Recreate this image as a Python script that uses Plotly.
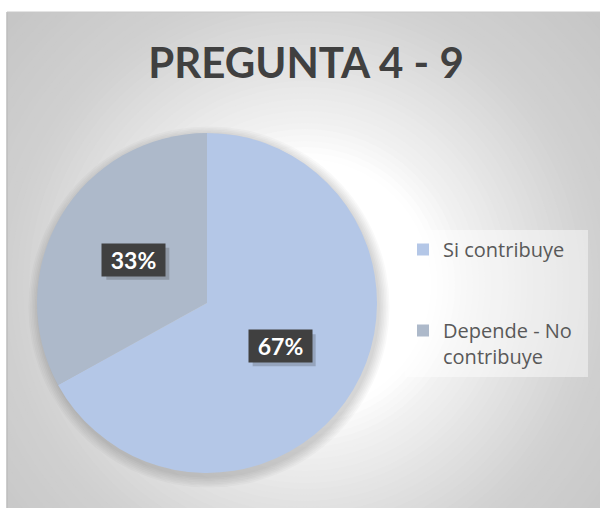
import plotly.graph_objects as go
import math

# ---- data ----
categories = ["Si contribuye", "Depende - No contribuye"]
legend_labels = ["Si contribuye<br> <br> ", "Depende - No<br>contribuye"]
values = [67, 33]
colors = ["#B4C7E7", "#ADB9CA"]
title_text = "PREGUNTA 4 - 9"

W, H = 600, 508
# pie geometry in pixels
cx, cy, R = 207, 303, 170


def px_x(x):
    return x / W


def px_y(y):
    return (H - y) / H


fig = go.Figure()
fig.add_trace(go.Pie(
    labels=legend_labels,
    values=values,
    marker=dict(colors=colors, line=dict(width=0)),
    sort=False,
    direction="clockwise",
    rotation=0,
    textinfo="none",
    hoverinfo="skip",
    domain=dict(x=[px_x(cx - R), px_x(cx + R)], y=[px_y(cy + R), px_y(cy - R)]),
    showlegend=True,
))


def grad(d):
    pts = [(0, 255), (130, 255), (165, 241), (290, 209), (420, 196)]
    for (d0, b0), (d1, b1) in zip(pts, pts[1:]):
        if d <= d1:
            return b0 + (b1 - b0) * (d - d0) / (d1 - d0)
    return pts[-1][1]


shapes = []
gx, gy = 305, 285
r = 420
while r > 0:
    b = int(round(grad(r)))
    shapes.append(dict(type="circle", xref="paper", yref="paper",
                       x0=px_x(gx - r), x1=px_x(gx + r), y0=px_y(gy + r), y1=px_y(gy - r),
                       fillcolor=f"rgb({b},{b},{b})", line=dict(width=0), layer="below"))
    r -= 6
# white margins outside the chart area
shapes.append(dict(type="rect", xref="paper", yref="paper", x0=-1, x1=px_x(7), y0=-1, y1=2,
                   fillcolor="white", line=dict(width=0), layer="below"))
shapes.append(dict(type="rect", xref="paper", yref="paper", x0=-1, x1=2, y0=px_y(12), y1=2,
                   fillcolor="white", line=dict(width=0), layer="below"))
shapes.append(dict(type="line", xref="paper", yref="paper", x0=px_x(7), x1=px_x(7), y0=0, y1=px_y(12),
                   line=dict(color="#BDBDBD", width=1.5), layer="below"))
shapes.append(dict(type="line", xref="paper", yref="paper", x0=px_x(7), x1=1.0, y0=px_y(12), y1=px_y(12),
                   line=dict(color="#C8C8C8", width=1), layer="below"))
# soft pie shadow
for k in range(7):
    rr = R + 1 + k * 1.6
    shapes.append(dict(type="circle", xref="paper", yref="paper",
                       x0=px_x(cx + 2 - rr), x1=px_x(cx + 2 + rr),
                       y0=px_y(cy + 4 + rr), y1=px_y(cy + 4 - rr),
                       fillcolor="rgba(0,0,0,0.024)", line=dict(width=0), layer="below"))
# legend panel
shapes.append(dict(type="rect", xref="paper", yref="paper", x0=px_x(405), x1=px_x(588),
                   y0=px_y(377), y1=px_y(230), fillcolor="rgba(255,255,255,0.45)",
                   line=dict(width=0), layer="below"))

# percentage labels positioned from the data
total = sum(values)
annotations = []
cum = 0
bw, bh = 63, 32
for v in values:
    mid = (cum + v / 2) / total * 2 * math.pi
    cum += v
    lx = cx + 0.5 * R * math.sin(mid)
    ly = cy - 0.5 * R * math.cos(mid)
    pct = f"{round(v / total * 100)}%"
    shapes.append(dict(type="rect", xref="paper", yref="paper",
                       x0=px_x(lx - bw / 2 + 4), x1=px_x(lx + bw / 2 + 4),
                       y0=px_y(ly + bh / 2 + 4), y1=px_y(ly - bh / 2 + 4),
                       fillcolor="rgba(40,40,40,0.22)", line=dict(width=0), layer="above"))
    annotations.append(dict(x=px_x(lx), y=px_y(ly), xref="paper", yref="paper",
                            xanchor="center", yanchor="middle",
                            text=f"<b>{pct}</b>", showarrow=False, width=bw - 12, height=bh - 12,
                            font=dict(size=23, color="white", family="Lato"),
                            bgcolor="#404040", borderpad=6))

fig.update_layout(
    width=W, height=H,
    margin=dict(l=0, r=0, t=0, b=0),
    paper_bgcolor="white",
    plot_bgcolor="white",
    title=dict(text=f"<b>{title_text}</b>", x=px_x(306), xanchor="center", y=px_y(63), yanchor="middle",
               font=dict(family="Lato", size=42, color="#404040")),
    legend=dict(x=px_x(403), y=px_y(230), xanchor="left", yanchor="top",
                font=dict(family="Open Sans", size=20, color="#595959"),
                valign="top", bgcolor="rgba(0,0,0,0)", traceorder="normal"),
    shapes=shapes,
    annotations=annotations,
)

fig.write_html("out.html", config={"displayModeBar": False},
               post_script="document.body.style.margin='0';")
